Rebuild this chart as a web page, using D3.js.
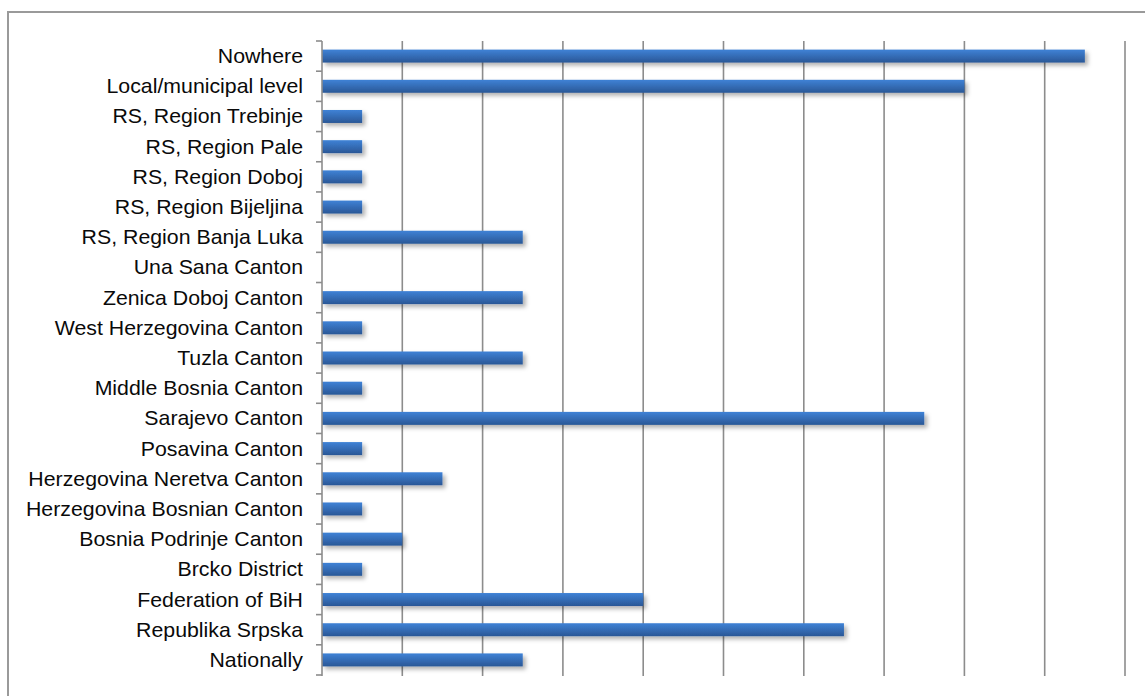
<!DOCTYPE html>
<html><head><meta charset="utf-8">
<script src="https://cdn.jsdelivr.net/npm/d3@7"></script>
<style>body{margin:0;background:#fff}svg{display:block}</style>
</head><body>
<script>
const categories = ["Nowhere","Local/municipal level","RS, Region Trebinje","RS, Region Pale","RS, Region Doboj","RS, Region Bijeljina","RS, Region Banja Luka","Una Sana Canton","Zenica Doboj Canton","West Herzegovina Canton","Tuzla Canton","Middle Bosnia Canton","Sarajevo Canton","Posavina Canton","Herzegovina Neretva Canton","Herzegovina Bosnian Canton","Bosnia Podrinje Canton","Brcko District","Federation of BiH","Republika Srpska","Nationally"];
const values = [19,16,1,1,1,1,5,0,5,1,5,1,15,1,3,1,2,1,8,13,5];
const gridTicks = [2,4,6,8,10,12,14,16,18,20];

const W=1145,H=696;
const svg=d3.select("body").append("svg").attr("width",W).attr("height",H);
const defs=svg.append("defs");
const g=defs.append("linearGradient").attr("id","barGrad").attr("x1",0).attr("y1",0).attr("x2",0).attr("y2",1);
g.append("stop").attr("offset","0%").attr("stop-color","#3f82d6");
g.append("stop").attr("offset","100%").attr("stop-color","#2a5796");
const f=defs.append("filter").attr("id","shadow").attr("x","-5%").attr("y","-50%").attr("width","120%").attr("height","250%");
f.append("feDropShadow").attr("dx",3).attr("dy",3).attr("stdDeviation",2.2).attr("flood-color","#000").attr("flood-opacity",0.3);

// chart border
svg.append("rect").attr("x",8).attr("y",12).attr("width",1200).attr("height",800)
  .attr("fill","none").attr("stroke","#9a9a9a").attr("stroke-width",2);

const x=d3.scaleLinear().domain([0,20]).range([322,1125]);
const y=d3.scaleBand().domain(categories).range([41,675]).paddingInner(0.57).paddingOuter(0.285);

// gridlines
svg.append("g").selectAll("line").data(gridTicks).join("line")
  .attr("x1",d=>x(d)).attr("x2",d=>x(d)).attr("y1",41).attr("y2",676)
  .attr("stroke","#8c8c8c").attr("stroke-width",1.6);

// bars
svg.append("g").selectAll("rect").data(categories.map((c,i)=>({c,v:values[i]})).filter(d=>d.v>0)).join("rect")
  .attr("x",x(0)).attr("y",d=>y(d.c)).attr("width",d=>x(d.v)-x(0)).attr("height",y.bandwidth())
  .attr("fill","url(#barGrad)").attr("filter","url(#shadow)");

// y axis line + ticks at band boundaries
const ax=svg.append("g");
ax.append("line").attr("x1",x(0)).attr("x2",x(0)).attr("y1",41).attr("y2",676).attr("stroke","#8c8c8c").attr("stroke-width",1.6);
const bounds=d3.range(categories.length+1).map(i=>41+i*y.step());
ax.selectAll(".tk").data(bounds).join("line").attr("class","tk")
  .attr("x1",x(0)-6).attr("x2",x(0)).attr("y1",d=>d).attr("y2",d=>d)
  .attr("stroke","#8c8c8c").attr("stroke-width",1.6);

// labels
svg.append("g").selectAll("text").data(categories).join("text")
  .attr("transform",d=>`translate(303,${y(d)+y.bandwidth()/2+7}) scale(1.065,1)`)
  .attr("text-anchor","end")
  .attr("font-family","'Liberation Sans', Arial, sans-serif").attr("font-size",20)
  .attr("fill","#0a0a0a").text(d=>d);
</script>
</body></html>
